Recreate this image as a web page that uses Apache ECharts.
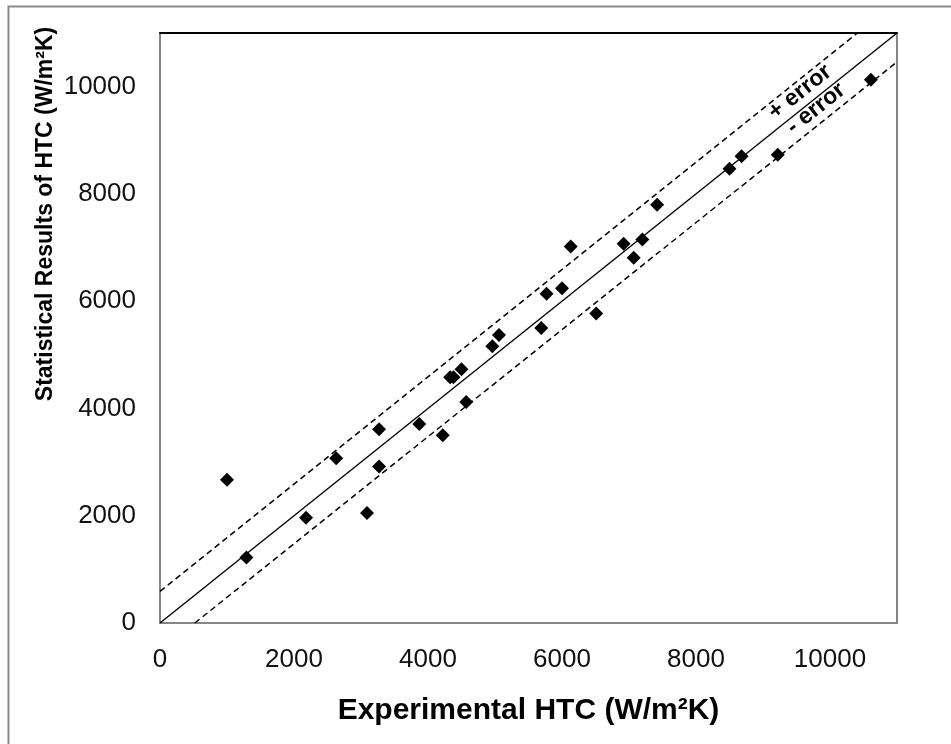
<!DOCTYPE html>
<html>
<head>
<meta charset="utf-8">
<script src="https://cdn.jsdelivr.net/npm/echarts@6/dist/echarts.min.js"></script>
<style>
html,body{margin:0;padding:0;background:#fff;}
#chart{width:951px;height:744px;}
</style>
</head>
<body>
<div id="chart"></div>
<script>
// Data
var experimentalHTC = [1000, 1290, 2180, 2630, 3090, 3270, 3270, 3870, 4220, 4330, 4380, 4500, 4570, 4960, 5060, 5690, 5770, 6000, 6130, 6510, 6920, 7070, 7200, 7420, 8500, 8680, 9220, 10610];
var statisticalHTC = [2670, 1220, 1960, 3070, 2050, 3610, 2920, 3710, 3500, 4580, 4580, 4730, 4120, 5160, 5370, 5500, 6140, 6240, 7020, 5770, 7070, 6810, 7150, 7800, 8470, 8700, 8730, 10130];
var perfectLine = [[0, 0], [11000, 11000]];
var plusErrorLine = [[0, 590], [10410, 11000]];
var minusErrorLine = [[520, 0], [11000, 10460]];
var errorLabels = [
  { name: '+ error', value: [9552, 9897] },
  { name: '- error', value: [9791, 9590] }
];
var xTicks = [0, 2000, 4000, 6000, 8000, 10000];
var yTicks = [0, 2000, 4000, 6000, 8000, 10000];
var xTitle = 'Experimental HTC (W/m\u00B2K)';
var yTitle = 'Statistical Results of HTC (W/m\u00B2K)';

var FONT = 'Liberation Sans, Arial, sans-serif';
var chart = echarts.init(document.getElementById('chart'), null, { renderer: 'canvas' });

var points = experimentalHTC.map(function (x, i) { return [x, statisticalHTC[i]]; });

chart.setOption({
  backgroundColor: '#ffffff',
  animation: false,
  graphic: [
    {
      type: 'rect', left: 6, top: 4, silent: true, z: -10,
      shape: { width: 960, height: 760 },
      style: { fill: 'none', stroke: '#8c8c8c', lineWidth: 2 }
    },
    {
      type: 'text', x: 46, y: 214, rotation: Math.PI / 2,
      style: {
        text: yTitle, font: 'bold 23px ' + FONT, fill: '#000',
        align: 'center', verticalAlign: 'middle'
      }
    }
  ],
  grid: { left: 160, right: 54, top: 33, bottom: 121, show: false },
  xAxis: [
    {
      type: 'value', min: 0, max: 11000, interval: 2000,
      position: 'bottom',
      name: xTitle, nameLocation: 'middle', nameGap: 73,
      nameTextStyle: { fontFamily: FONT, fontWeight: 'bold', fontSize: 30, color: '#000' },
      axisLine: { show: true, onZero: false, lineStyle: { color: '#868686', width: 2 } },
      axisTick: { show: false },
      splitLine: { show: false },
      axisLabel: {
        fontFamily: FONT, fontSize: 26, color: '#111', margin: 24,
        showMaxLabel: false,
        formatter: function (v) { return xTicks.indexOf(v) >= 0 ? String(v) : ''; }
      }
    },
    {
      type: 'value', min: 0, max: 11000, position: 'top',
      axisLine: { show: true, onZero: false, lineStyle: { color: '#000', width: 2 } },
      axisTick: { show: false }, axisLabel: { show: false }, splitLine: { show: false }
    }
  ],
  yAxis: [
    {
      type: 'value', min: 0, max: 11000, interval: 2000,
      position: 'left',
      axisLine: { show: true, onZero: false, lineStyle: { color: '#868686', width: 2 } },
      axisTick: { show: false },
      splitLine: { show: false },
      axisLabel: {
        fontFamily: FONT, fontSize: 26, color: '#111', margin: 24,
        showMaxLabel: false,
        formatter: function (v) { return yTicks.indexOf(v) >= 0 ? String(v) : ''; }
      }
    },
    {
      type: 'value', min: 0, max: 11000, position: 'right',
      axisLine: { show: true, onZero: false, lineStyle: { color: '#868686', width: 2 } },
      axisTick: { show: false }, axisLabel: { show: false }, splitLine: { show: false }
    }
  ],
  series: [
    {
      type: 'line', data: perfectLine, symbol: 'none', silent: true,
      lineStyle: { color: '#000', width: 1.4, type: 'solid' }, z: 2
    },
    {
      type: 'line', data: plusErrorLine, symbol: 'none', silent: true,
      lineStyle: { color: '#000', width: 1.5, type: [6, 4] }, z: 2
    },
    {
      type: 'line', data: minusErrorLine, symbol: 'none', silent: true,
      lineStyle: { color: '#000', width: 1.5, type: [6, 4] }, z: 2
    },
    {
      type: 'scatter', data: points, symbol: 'diamond', symbolSize: 14,
      itemStyle: { color: '#000', opacity: 1 }, z: 5
    },
    {
      type: 'scatter', data: errorLabels, symbolSize: 0, silent: true, z: 6,
      itemStyle: { color: '#000', opacity: 1 },
      label: {
        show: true, position: 'inside', rotate: 38.6,
        formatter: function (p) { return p.name; },
        fontFamily: FONT, fontWeight: 'bold', fontSize: 23, color: '#000', opacity: 1
      }
    }
  ]
});
</script>
</body>
</html>
